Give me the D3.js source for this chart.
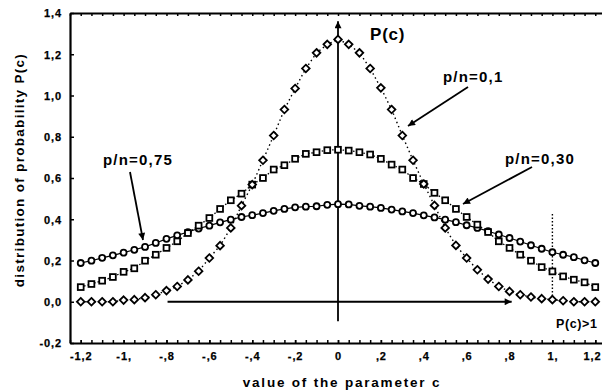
<!DOCTYPE html>
<html><head><meta charset="utf-8">
<script src="https://cdn.jsdelivr.net/npm/d3@7"></script>
<style>
html,body{margin:0;padding:0;background:#fff;}
svg text{font-family:"Liberation Sans",Arial,sans-serif;font-weight:bold;fill:#000;}
</style></head>
<body>
<svg id="chart" width="602" height="392"></svg>
<script>
// parameter c values
const cValues = [-1.2,-1.15,-1.1,-1.05,-1.0,-0.95,-0.9,-0.85,-0.8,-0.75,-0.7,-0.65,-0.6,-0.55,-0.5,-0.45,-0.4,-0.35,-0.3,-0.25,-0.2,-0.15,-0.1,-0.05,0,
  0.05,0.1,0.15,0.2,0.25,0.3,0.35,0.4,0.45,0.5,0.55,0.6,0.65,0.7,0.75,0.8,0.85,0.9,0.95,1.0,1.05,1.1,1.15,1.2];
// p/n = 0,1 (diamonds)
const seriesP01 = [0,0,0,0,0.008,0.01,0.02,0.034,0.054,0.074,0.106,0.148,0.212,0.272,0.358,0.466,0.568,0.686,0.806,0.932,1.034,1.131,1.207,1.248,1.272,
  1.248,1.207,1.131,1.037,0.932,0.806,0.686,0.571,0.467,0.358,0.273,0.212,0.155,0.11,0.074,0.05,0.034,0.023,0.015,0.01,0.005,0,0,0];
// p/n = 0,30 (squares)
const seriesP030 = [0.071,0.086,0.102,0.12,0.145,0.162,0.199,0.228,0.261,0.293,0.333,0.369,0.406,0.45,0.492,0.524,0.568,0.6,0.641,0.662,0.693,0.717,0.725,0.735,0.737,
  0.733,0.725,0.714,0.693,0.665,0.641,0.6,0.571,0.528,0.492,0.45,0.411,0.374,0.338,0.293,0.261,0.228,0.199,0.168,0.147,0.123,0.107,0.094,0.071];
// p/n = 0,75 (circles)
const seriesP075 = [0.188,0.199,0.213,0.225,0.238,0.252,0.266,0.285,0.305,0.322,0.338,0.355,0.369,0.385,0.398,0.411,0.42,0.43,0.441,0.45,0.458,0.461,0.463,0.47,0.473,
  0.472,0.465,0.461,0.455,0.447,0.438,0.43,0.419,0.409,0.398,0.386,0.371,0.358,0.342,0.326,0.309,0.292,0.274,0.257,0.24,0.228,0.216,0.201,0.188];
const xTickValues = [-1.2,-1.0,-0.8,-0.6,-0.4,-0.2,0,0.2,0.4,0.6,0.8,1.0,1.2];
const xTickLabels = ["-1,2","-1,","-,8","-,6","-,4","-,2","0",",2",",4",",6",",8","1,","1,2"];
const yTickValues = [-0.2,0,0.2,0.4,0.6,0.8,1.0,1.2,1.4];
const yTickLabels = ["-0,2","0,0","0,2","0,4","0,6","0,8","1,0","1,2","1,4"];
const seriesLabels = ["p/n=0,1","p/n=0,30","p/n=0,75"];

const svg = d3.select("#chart");
const x = d3.scaleLinear().domain([-1.25,1.25]).range([70,606]);
const y = d3.scaleLinear().domain([-0.2,1.4]).range([343,13]);

// minor ticks every 0.05
const minorX = d3.range(-1.25,1.2501,0.05).map(v=>+v.toFixed(2));

const gB = svg.append("g").attr("transform",`translate(0,${y(-0.2)})`)
  .call(d3.axisBottom(x).tickValues(minorX).tickSize(-3).tickSizeOuter(0).tickFormat(""));
const gBL = svg.append("g").attr("transform",`translate(0,${y(-0.2)})`)
  .call(d3.axisBottom(x).tickValues(xTickValues).tickSize(-3).tickSizeOuter(0).tickPadding(9)
    .tickFormat((d,i)=>xTickLabels[i]));
gBL.select(".domain").remove();
// keep the last label inside the window
gBL.selectAll(".tick text").filter(d=>d===1.2).attr("text-anchor","end").attr("x",601-x(1.2));
const gT = svg.append("g").attr("transform",`translate(0,${y(1.4)})`)
  .call(d3.axisTop(x).tickValues(minorX).tickSize(-3).tickSizeOuter(0).tickFormat(""));
const gL = svg.append("g").attr("transform",`translate(${x(-1.25)},0)`)
  .call(d3.axisLeft(y).tickValues(yTickValues).tickSize(-4).tickSizeOuter(0).tickPadding(8)
    .tickFormat((d,i)=>yTickLabels[i]));
[gB,gT,gL].forEach(g=>{g.select(".domain").attr("stroke","#000").attr("stroke-width",2.2);});
svg.selectAll(".tick line").attr("stroke","#000").attr("stroke-width",1.5);
svg.selectAll(".tick text").style("font-size","11px").style("letter-spacing","0.9px").attr("fill","#000")
  .attr("stroke","#000").attr("stroke-width",0.25);
gL.selectAll(".tick text").attr("dy","0.35em");

// coordinate arrows
const defs = svg.append("defs");
defs.append("marker").attr("id","ah").attr("viewBox","0 0 10 10").attr("refX",10).attr("refY",5)
  .attr("markerWidth",9).attr("markerHeight",7).attr("markerUnits","userSpaceOnUse").attr("orient","auto")
  .append("path").attr("d","M0,0 L10,5 L0,10 Z").attr("fill","#000");
svg.append("line").attr("x1",x(0)).attr("x2",x(0)).attr("y1",y(-0.095)).attr("y2",y(1.36))
  .attr("stroke","#000").attr("stroke-width",1.8).attr("marker-end","url(#ah)");
svg.append("line").attr("x1",x(-0.795)).attr("x2",x(0.81)).attr("y1",y(0)).attr("y2",y(0))
  .attr("stroke","#000").attr("stroke-width",1.8).attr("marker-end","url(#ah)");
// dotted line at c = 1
svg.append("line").attr("x1",x(1.0)).attr("x2",x(1.0)).attr("y1",y(0.425)).attr("y2",y(0))
  .attr("stroke","#000").attr("stroke-width",1.4).attr("stroke-dasharray","1.5,2");

const line = d3.line().x((d,i)=>x(cValues[i])).y(d=>y(d));
function drawSeries(vals, dash, width, shape){
  svg.append("path").attr("d",line(vals)).attr("fill","none").attr("stroke","#000")
    .attr("stroke-width",width).attr("stroke-dasharray",dash);
  const g = svg.append("g");
  vals.forEach((v,i)=>{
    const cx = x(cValues[i]), cy = y(v);
    let el;
    if(shape==="circle") el = g.append("circle").attr("cx",cx).attr("cy",cy).attr("r",3.0);
    else if(shape==="square") el = g.append("rect").attr("x",cx-2.9).attr("y",cy-2.9).attr("width",5.8).attr("height",5.8);
    else el = g.append("path").attr("d",`M${cx},${cy-3.8}L${cx+3.8},${cy}L${cx},${cy+3.8}L${cx-3.8},${cy}Z`);
    el.attr("fill","#fff").attr("stroke","#000").attr("stroke-width",1.8);
  });
}
drawSeries(seriesP075, null, 1.2, "circle");
drawSeries(seriesP030, "1.5,2", 1.3, "square");
drawSeries(seriesP01, "1.5,3", 1.4, "diamond");

// annotations
function arrow(x1,y1,x2,y2){
  svg.append("line").attr("x1",x1).attr("y1",y1).attr("x2",x2).attr("y2",y2)
    .attr("stroke","#000").attr("stroke-width",1.8).attr("marker-end","url(#ah)");
}
svg.append("text").attr("x",370).attr("y",40).style("font-size","17px").style("letter-spacing","0.8px").text("P(c)");
svg.append("text").attr("x",443).attr("y",82).style("font-size","15px").style("letter-spacing","1.2px").text(seriesLabels[0]);
arrow(468,87,408,126);
svg.append("text").attr("x",505).attr("y",164).style("font-size","15px").style("letter-spacing","1.2px").text(seriesLabels[1]);
arrow(532,167,463,204);
svg.append("text").attr("x",103).attr("y",165).style("font-size","15px").style("letter-spacing","1.2px").text(seriesLabels[2]);
arrow(130,172,143,240);
svg.append("text").attr("x",556).attr("y",328).style("font-size","12.5px").style("letter-spacing","0.6px").text("P(c)>1");

// axis titles
svg.append("text").attr("x",342).attr("y",387).attr("text-anchor","middle")
  .style("font-size","13.5px").style("letter-spacing","1.8px").text("value of the parameter c");
svg.append("text").attr("transform","translate(24,170) rotate(-90)").attr("text-anchor","middle")
  .style("font-size","13.5px").style("letter-spacing","1.3px").text("distribution of probability P(c)");
</script>
</body></html>
